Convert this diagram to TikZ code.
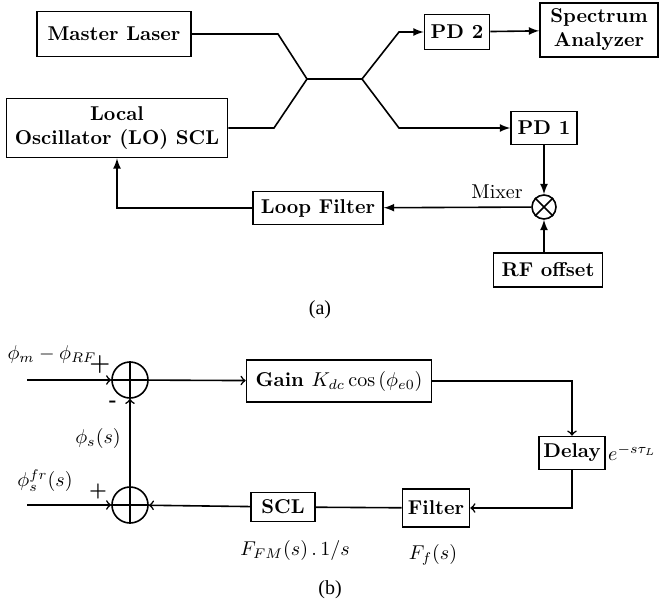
\documentclass[tikz,border=0pt]{standalone}
\usepackage{amsmath}
\usepackage{fontspec}
\newfontfamily\capfont{Liberation Serif}
\usepackage{tikz}
\usetikzlibrary{calc}

\tikzset{
  blk/.style={draw, thick, inner sep=0pt, font=\bfseries, align=center},
  sumnode/.style={draw, thick, circle, minimum size=18pt, inner sep=0pt},
  lbl/.style={inner sep=1pt}
}

\begin{document}
\begin{tikzpicture}[x=0.5pt, y=-0.5pt]
  \useasboundingbox (0,0) rectangle (660,607);

  % (a)
  \node[blk, minimum width=77pt, minimum height=22.5pt] (ML) at (114,34) {Master Laser};
  \node[blk, minimum width=110.5pt, minimum height=29.5pt] (LO) at (117,128) {Local\\Oscillator (LO) SCL};
  \node[blk, minimum width=32.5pt, minimum height=17.5pt] (PD2) at (457,32) {PD 2};
  \node[blk, minimum width=59pt, minimum height=27pt] (SA) at (599,30) {Spectrum\\Analyzer};
  \node[blk, minimum width=33pt, minimum height=16.5pt] (PD1) at (544,128) {PD 1};
  \node[draw, thick, circle, minimum size=12pt, inner sep=0pt] (mix) at (544,207) {};
  \node[blk, minimum width=65pt, minimum height=16.5pt] (LF) at (318,208) {Loop Filter};
  \node[blk, minimum width=54.5pt, minimum height=17pt] (RF) at (548,270) {RF offset};
  \node[lbl] (mixlbl) at (497,192) {Mixer};

  \coordinate (a1) at (278,34);
  \coordinate (a2) at (274,128);
  \coordinate (j1) at (307,79);
  \coordinate (j2) at (362,79);
  \coordinate (a3) at (399,32);
  \coordinate (a4) at (399,128);

  \draw[thick] (mix.north west) -- (mix.south east);
  \draw[thick] (mix.north east) -- (mix.south west);

  \draw[thick] (ML.east) -- (a1) -- (j1) -- (j2);
  \draw[thick] (LO.east) -- (a2) -- (j1);
  \draw[-latex, thick] (j2) -- (a3) -- (PD2.west);
  \draw[-latex, thick] (j2) -- (a4) -- (PD1.west);
  \draw[-latex, thick] (PD2) -- (SA);
  \draw[-latex, thick] (PD1) -- (mix);
  \draw[-latex, thick] (mix |- RF.north) -- (mix);
  \draw[-latex, thick] (mix) -- (LF);
  \draw[-latex, thick] (LF.west) -| (LO.south);

  \node (capa) at (320,310) {\capfont (a)};

  % (b)
  \node[sumnode] (s1) at (130,380) {};
  \node[sumnode] (s2) at (130,505) {};
  \draw[thick] (s1.north) -- (s1.south) (s1.west) -- (s1.east);
  \draw[thick] (s2.north) -- (s2.south) (s2.west) -- (s2.east);

  \node[blk, minimum width=92.5pt, minimum height=21pt] (gain) at (339,381) {Gain \mdseries$K_{dc}\cos\left(\phi_{e0}\right)$};
  \node[blk, minimum width=33pt, minimum height=16.5pt] (delay) at (572,453) {Delay};
  \node[blk, minimum width=33.5pt, minimum height=19pt] (filt) at (436,508) {Filter};
  \node[blk, minimum width=32pt, minimum height=14.5pt] (scl) at (283,507) {SCL};

  \coordinate (in1) at (27,380);
  \coordinate (in2) at (27,505);

  \draw[->, thick] (in1) -- (s1);
  \draw[->, thick] (s1) -- (gain);
  \draw[->, thick] (gain.east) -| (delay.north);
  \draw[->, thick] (delay.south) |- (filt.east);
  \draw[thick] (filt) -- (scl);
  \draw[->, thick] (scl) -- (s2);
  \draw[->, thick] (in2) -- (s2);
  \draw[->, thick] (s2) -- (s1);

  \node[lbl] (lin1) at (52,354) {$\phi_m-\phi_{RF}$};
  \node[lbl] (plus1) at (100,365) {\large\textbf{+}};
  \node[lbl] (minus1) at (113,404) {\textbf{-}};
  \node[lbl] (lfb) at (98,438) {$\phi_s(s)$};
  \node[lbl] (lin2) at (45,481) {$\phi_s^{fr}(s)$};
  \node[lbl] (plus2) at (98,491) {\textbf{+}};
  \node[lbl, anchor=west] (ldel) at (delay.east) {$e^{-s\tau_L}$};
  \node[lbl] (lfilt) at (433,555) {$F_f(s)$};
  \node[lbl] (lscl) at (295,550) {$F_{FM}(s)\,.\,1/s$};

  \node (capb) at (330,590) {\capfont (b)};
\end{tikzpicture}
\end{document}
